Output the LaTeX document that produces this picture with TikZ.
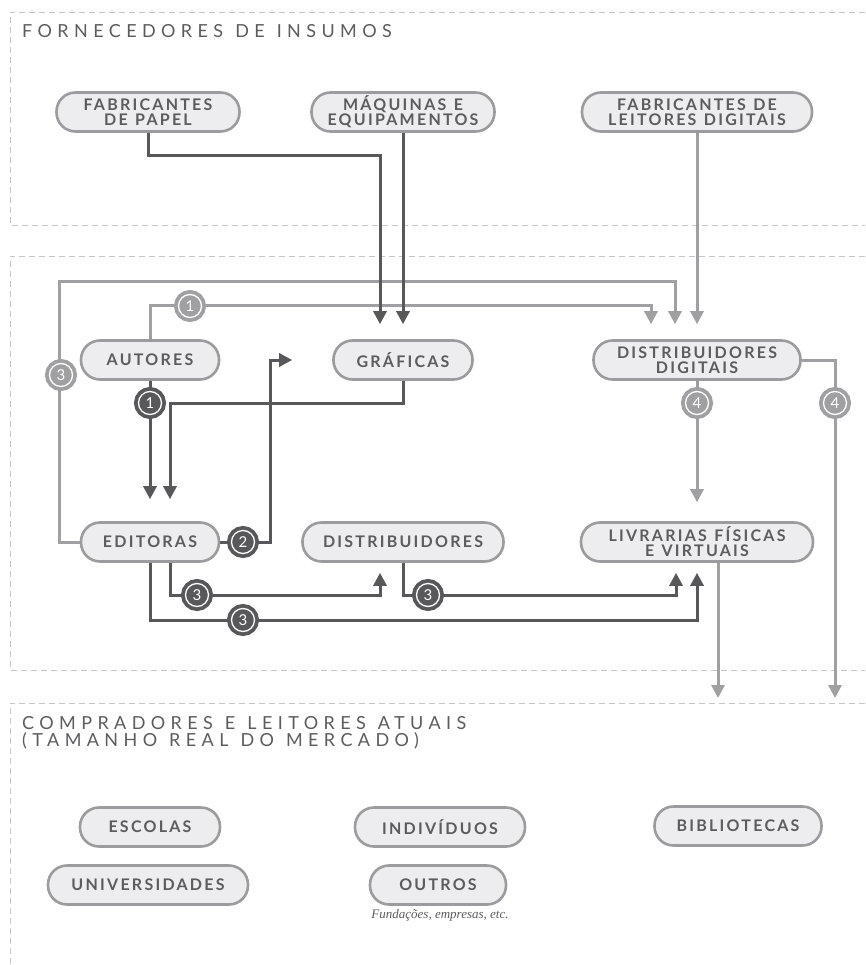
\documentclass[tikz,border=0pt]{standalone}
\usepackage{fontspec}
\newfontfamily\boxfont[LetterSpace=14,WordSpace=1.2]{Lato}
\newfontfamily\headfont[LetterSpace=30,WordSpace=1.2]{Lato}
\newfontfamily\badgefont{Lato}
\newfontfamily\notefont{Liberation Serif}
\usetikzlibrary{arrows.meta,calc}
\definecolor{dk}{HTML}{58585A}
\definecolor{lt}{HTML}{A0A0A3}
\definecolor{boxfill}{HTML}{EDEDEF}
\definecolor{boxline}{HTML}{9C9C9E}
\definecolor{txt}{HTML}{5C5C5E}
\definecolor{framegray}{HTML}{C6C6C8}

\begin{document}
\begin{tikzpicture}[x=1pt,y=-1pt]
        \tikzstyle{item}=[rectangle,rounded corners=19pt,draw=boxline,fill=boxfill,line width=2.6pt,minimum height=39pt,text=txt,align=center,inner xsep=10pt,inner ysep=2pt,font=\boxfont\bfseries\fontsize{16}{15}\selectfont]
        \tikzstyle{frame}=[draw=framegray,line width=0.8pt,dash pattern=on 6pt off 4pt]
        \tikzstyle{flow}=[line width=3pt,line join=miter,-{Triangle[length=13pt,width=13pt]}]
        \tikzstyle{dkline}=[flow,draw=dk]
        \tikzstyle{ltline}=[flow,draw=lt]
        \tikzstyle{badge}=[circle,minimum size=23pt,inner sep=0pt,draw=white,line width=1.3pt,text=white,font=\badgefont\fontsize{15}{15}\selectfont]
        \tikzstyle{dkbadge}=[badge,fill=dk,preaction={draw=dk,line width=9pt}]
        \tikzstyle{ltbadge}=[badge,fill=lt,preaction={draw=lt,line width=9pt}]
        \tikzstyle{heading}=[inner sep=0pt,text=txt,align=left,font=\headfont\fontsize{18}{17}\selectfont]
        \useasboundingbox (0,0) rectangle (865,965);
        % section frames
        \draw [frame] (865,12) -- (10,12) -- (10,225) -- (865,225);
        \draw [frame] (865,256) -- (10,256) -- (10,670) -- (865,670);
        \draw [frame] (865,703) -- (10,703) -- (10,965);
        \node [heading,anchor=base west] (suppliers) at (22,38) {FORNECEDORES DE INSUMOS};
        \node [heading,anchor=north west] (buyers) at (22,716) {COMPRADORES E LEITORES ATUAIS\\(TAMANHO REAL DO MERCADO)};
        % suppliers
        \node [item,minimum width=183pt] (papel) at (148,112) {FABRICANTES\\DE PAPEL};
        \node [item,minimum width=183pt] (maquinas) at (403,112) {MÁQUINAS E\\EQUIPAMENTOS};
        \node [item,minimum width=230pt] (leitores) at (697,112) {FABRICANTES DE\\LEITORES DIGITAIS};
        % chain
        \node [item,minimum width=138pt] (autores) at (150,360) {AUTORES};
        \node [item,minimum width=139pt] (graficas) at (403,360) {GRÁFICAS};
        \node [item,minimum width=207pt] (digitais) at (697,360) {DISTRIBUIDORES\\DIGITAIS};
        \node [item,minimum width=138pt] (editoras) at (150,542) {EDITORAS};
        \node [item,minimum width=201pt] (distrib) at (403,542) {DISTRIBUIDORES};
        \node [item,minimum width=232pt] (livrarias) at (697,542) {LIVRARIAS FÍSICAS\\E VIRTUAIS};
        % buyers
        \node [item,minimum width=140pt] (escolas) at (150,827) {ESCOLAS};
        \node [item,minimum width=170pt] (individuos) at (440,827) {INDIVÍDUOS};
        \node [item,minimum width=167pt] (bibliotecas) at (738,826) {BIBLIOTECAS};
        \node [item,minimum width=200pt] (universidades) at (148,885) {UNIVERSIDADES};
        \node [item,minimum width=136pt] (outros) at (438,885) {OUTROS};
        \node [text=txt,font=\notefont\itshape\fontsize{13}{13}\selectfont] (outrosnote) at (440,915) {Fundações, empresas, etc.};
        \coordinate (outL) at (718,698);
        \coordinate (outR) at (835,698);
        % light connectors
        \draw [ltline,shorten >=15pt] (leitores.south) -- (leitores.south |- digitais.north);
        \draw [ltline,shorten >=15pt] (editoras.west) -- ++(-20,0) |- ($(digitais.north)+(-22,-58)$) -- ($(digitais.north)+(-22,0)$);
        \draw [ltline,shorten >=15pt] (autores.north) -- ++(0,-34) -| ($(digitais.north)+(-46,0)$);
        \draw [ltline,shorten >=19pt] (digitais.south) -- (livrarias.north);
        \draw [ltline] (digitais.east) -| (outR);
        \draw [ltline] ($(livrarias.south)+(21,0)$) -- (outL);
        % dark connectors
        \draw [dkline,shorten >=15pt] (papel.south) -- ++(0,23) -| ($(graficas.north)+(-23,0)$);
        \draw [dkline,shorten >=15pt] (maquinas.south) -- (graficas.north);
        \draw [dkline,shorten >=22pt] (autores.south) -- (editoras.north);
        \draw [dkline,shorten >=22pt] (graficas.south) -- ++(0,23) -| ($(editoras.north)+(20,0)$);
        \draw [dkline] (editoras.east) -- ++(50,0) |- ($(graficas.west)+(-40,0)$);
        \draw [dkline,shorten >=10pt] ($(editoras.south)+(20,0)$) -- ++(0,33) -| ($(distrib.south)+(-23,0)$);
        \draw [dkline,shorten >=10pt] (editoras.south) -- ++(0,58) -| (livrarias.south);
        \draw [dkline,shorten >=10pt] (distrib.south) -- ++(0,33) -| ($(livrarias.south)+(-21,0)$);
        % step badges
        \node [ltbadge] (lt1) at (190,306) {1};
        \node [ltbadge] (lt3) at (61,375) {3};
        \node [ltbadge] (lt4a) at (697,403) {4};
        \node [ltbadge] (lt4b) at (835,403) {4};
        \node [dkbadge] (dk1) at (150,403) {1};
        \node [dkbadge] (dk2) at (243,542) {2};
        \node [dkbadge] (dk3a) at (197,595) {3};
        \node [dkbadge] (dk3b) at (243,620) {3};
        \node [dkbadge] (dk3c) at (428,595) {3};
\end{tikzpicture}
\end{document}
